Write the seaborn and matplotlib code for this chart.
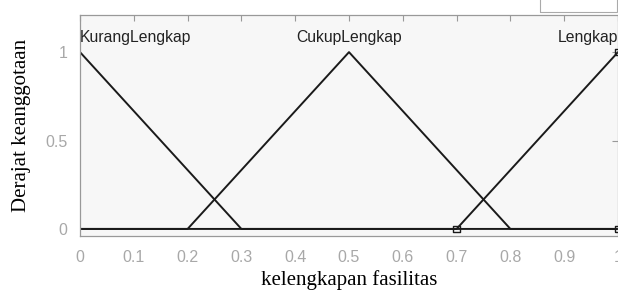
import pandas as pd
import seaborn as sns
import matplotlib.pyplot as plt
from matplotlib.patches import Rectangle

# membership functions, breakpoints
x_pts = [0, 0.2, 0.3, 0.5, 0.7, 0.8, 1.0]
kurang = [1, 1/3, 0, 0, 0, 0, 0]
cukup = [0, 0, 1/3, 1, 1/3, 0, 0]
lengkap = [0, 0, 0, 0, 0, 1/3, 1]
mf_names = ['KurangLengkap', 'CukupLengkap', 'Lengkap']
label_x = [0, 0.5, 1.0]
marker_x = [0.7, 1.0, 1.0]
marker_y = [0, 0, 1]
xticks = [0, 0.1, 0.2, 0.3, 0.4, 0.5, 0.6, 0.7, 0.8, 0.9, 1]
yticks = [0, 0.5, 1]

df = pd.concat([
    pd.DataFrame({'x': x_pts, 'mu': vals, 'mf': name})
    for name, vals in zip(mf_names, [kurang, cukup, lengkap])
])

sns.set_style('white')
fig = plt.figure(figsize=(6.18, 2.9), dpi=100)
ax = fig.add_axes([80/618, 1-236/290, 538/618, 221/290])
ax.set_facecolor('#f7f7f7')

sns.lineplot(data=df, x='x', y='mu', units='mf', estimator=None,
             color='#1a1a1a', lw=1.4, ax=ax, sort=False)
sns.scatterplot(x=marker_x, y=marker_y, marker='s', s=22, facecolor='none',
                edgecolor='#1a1a1a', linewidth=1, ax=ax, zorder=5, clip_on=False)

for name, lx in zip(mf_names, label_x):
    ha = {0: 'left', 0.5: 'center', 1.0: 'right'}[lx]
    ax.text(lx, 1.085, name, ha=ha, va='center', fontsize=11.3,
            family='Liberation Sans', color='#222222')

ax.set_xlim(0, 1)
ax.set_ylim(-0.04, 1.21)
ax.set_xticks(xticks)
ax.set_xticklabels([f'{t:g}' for t in xticks])
ax.set_yticks(yticks)
ax.set_yticklabels([f'{t:g}' for t in yticks])
ax.tick_params(direction='in', length=4, width=0.8, colors='#999999',
               labelcolor='#a8a8a8', labelsize=11.5, top=True, right=True)
ax.tick_params(axis='x', pad=10)
ax.tick_params(axis='y', pad=9)
for lab in ax.get_xticklabels() + ax.get_yticklabels():
    lab.set_family('Liberation Sans')
for sp in ax.spines.values():
    sp.set_color('#999999')
    sp.set_linewidth(0.9)

ax.set_xlabel('kelengkapan fasilitas', family='Liberation Serif', fontsize=15,
              color='black', labelpad=3.5)
ax.set_ylabel('Derajat keanggotaan', family='Liberation Serif', fontsize=15,
              color='black', labelpad=10)

# cropped legend box at the top edge
fig.add_artist(Rectangle((540/618, 1-12/290), 77/618, 0.2, transform=fig.transFigure,
                         fill=False, edgecolor='#aaaaaa', lw=0.8))

fig.savefig('out.png', dpi=100)
